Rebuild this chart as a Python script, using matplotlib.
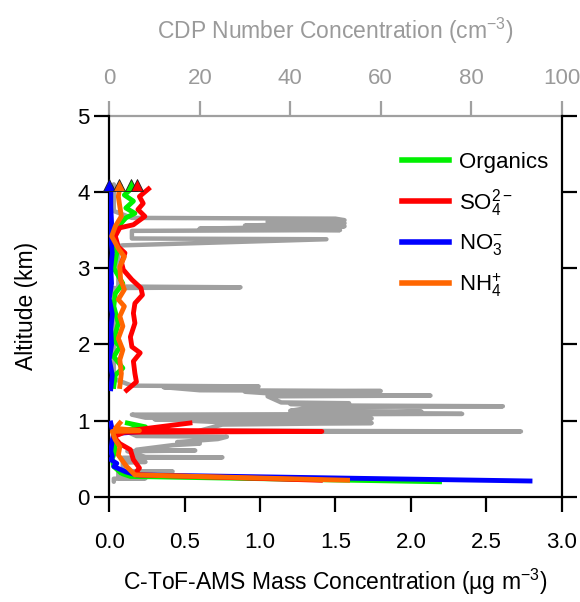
import numpy as np
import matplotlib
matplotlib.use("Agg")
import matplotlib.pyplot as plt
from matplotlib.ticker import FormatStrFormatter
from matplotlib.lines import Line2D

plt.rcParams['font.family'] = ['Liberation Sans', 'DejaVu Sans']
plt.rcParams['mathtext.fontset'] = 'custom'
plt.rcParams['mathtext.rm'] = 'Liberation Sans'
plt.rcParams['mathtext.it'] = 'Liberation Sans:italic'
plt.rcParams['mathtext.bf'] = 'Liberation Sans:bold'

nan = np.nan

# ---- CDP number concentration profile (cm^-3) vs altitude (km) ----
cdp_alt = [0.20, 0.24, 0.245, 0.25, 0.33, 0.335, 0.34, 0.45, 0.46, 0.47, 0.515, 0.52, 0.525,
           0.60, 0.61, 0.62, 0.68, 0.70, 0.72, 0.76, 0.79, 0.80, 0.855, 0.86, 0.87, 0.95,
           0.97, 0.98, 1.02, 1.03, 1.04, 1.08, 1.09, 1.10, 1.12, 1.13, 1.18, 1.19, 1.20,
           1.22, 1.23, 1.24, 1.32, 1.33, 1.34, 1.38, 1.39, 1.40, 1.44, 1.45, 1.46, 1.55,
           2.74, 2.75, 2.76, 3.29, 3.30, 3.38, 3.39, 3.49, 3.50, 3.52, 3.55, 3.56, 3.59,
           3.61, 3.63, 3.65, 3.66, 3.75, 4.10]
cdp_conc = [1, 1, 8, 2, 2, 14, 3, 3, 8, 3, 3, 25, 8,
            4, 19, 6, 14, 20, 15, 24, 26, 6, 4, 91, 20, 25,
            58, 25, 10, 58, 8, 5, 78, 55, 69, 40, 45, 87, 50,
            40, 53, 38, 35, 71, 40, 30, 60, 20, 12, 33, 5, 1,
            1, 29, 2, 2, 3, 48, 5, 5, 51, 20, 52, 30, 52,
            35, 52, 50, 5, 1, 1]

# ---- C-ToF-AMS species mass concentrations (ug m^-3) ----
org_alt = [0.20, 0.27, 0.31, 0.40, 0.50, 0.62, 0.75, 0.86, 0.92, 0.97, nan,
           1.45, 1.60, 1.69, 1.84, 1.97, 2.06, 2.28, 2.50, 2.67, 2.80, 3.00, 3.20,
           3.35, 3.48, 3.55, 3.66, 3.72, 3.79, 3.88, 3.96, 4.05]
org_mass = [2.19, 0.14, 0.08, 0.03, 0.02, 0.04, 0.03, 0.05, 0.24, 0.12, nan,
            0.03, 0.04, 0.09, 0.03, 0.07, 0.03, 0.06, 0.03, 0.04, 0.09, 0.03, 0.05,
            0.02, 0.03, 0.06, 0.11, 0.17, 0.11, 0.16, 0.10, 0.15]

so4_alt = [0.22, 0.29, 0.33, 0.38, 0.49, 0.62, 0.70, 0.79, 0.85, 0.86, 0.875, 0.97, nan,
           1.40, 1.51, 1.62, 1.78, 1.89, 1.97, 2.10, 2.28, 2.41, 2.54, 2.65, 2.74,
           2.85, 2.98, 3.07, 3.20, 3.28, 3.42, 3.53, 3.57, 3.68, 3.77, 3.85, 3.94, 4.04]
so4_mass = [1.40, 0.20, 0.18, 0.20, 0.16, 0.14, 0.07, 0.03, 0.10, 1.41, 0.15, 0.535, nan,
            0.115, 0.18, 0.17, 0.16, 0.205, 0.15, 0.14, 0.17, 0.16, 0.17, 0.22, 0.21,
            0.15, 0.093, 0.082, 0.104, 0.06, 0.04, 0.07, 0.16, 0.236, 0.19, 0.225, 0.20, 0.26]

no3_alt = [0.21, 0.29, 0.33, 0.40, 0.44, 0.49, 0.53, 0.60, 0.75, 0.83, 0.86, 0.88, 0.97, nan,
           1.42, 1.60, 1.80, 2.00, 2.20, 2.40, 2.60, 2.80, 3.00, 3.20, 3.40, 3.60, 3.80, 4.05]
no3_mass = [2.79, 0.18, 0.11, 0.03, 0.05, 0.01, 0.02, 0.01, 0.02, 0.03, 0.22, 0.02, 0.01, nan,
            0.01, 0.02, 0.00, 0.015, 0.01, 0.02, 0.00, 0.015, 0.01, 0.02, 0.01, 0.015, 0.01, 0.01]

nh4_alt = [0.22, 0.29, 0.40, 0.55, 0.66, 0.75, 0.86, 0.87, 0.90, 0.97, nan,
           1.45, 1.62, 1.80, 1.93, 2.08, 2.24, 2.37, 2.50, 2.59, 2.72, 2.85, 3.02,
           3.15, 3.26, 3.42, 3.55, 3.68, 3.81, 3.94, 4.07]
nh4_mass = [1.58, 0.17, 0.115, 0.06, 0.07, 0.04, 0.02, 0.20, 0.04, 0.07, nan,
            0.07, 0.08, 0.07, 0.09, 0.06, 0.09, 0.07, 0.10, 0.06, 0.10, 0.075, 0.07,
            0.10, 0.06, 0.016, 0.04, 0.08, 0.07, 0.06, 0.07]

# top-of-profile triangle markers (order: NO3, NH4, Organics, SO4)
top_marker_mass = [0.0, 0.064, 0.144, 0.184]
top_marker_alt = [4.09, 4.09, 4.09, 4.09]

x_ticks = [0.0, 0.5, 1.0, 1.5, 2.0, 2.5, 3.0]
y_ticks = [0, 1, 2, 3, 4, 5]
cdp_ticks = [0, 20, 40, 60, 80, 100]

C_ORG = '#00F000'
C_SO4 = '#FF0000'
C_NO3 = '#0000FF'
C_NH4 = '#FF6600'
GRAY = '#A0A0A0'
TXT_GRAY = '#9A9A9A'

fig = plt.figure(figsize=(5.8, 6.02), dpi=100)
ax = fig.add_axes([0.1884, 0.1744, 0.7800, 0.6334])
ax_cdp = ax.twiny()
ax.set_zorder(ax_cdp.get_zorder() + 1)
ax.patch.set_visible(False)

# CDP (gray) on the top axis
ax_cdp.plot(cdp_conc, cdp_alt, color=GRAY, lw=3.2, solid_capstyle='round',
            solid_joinstyle='round')
ax_cdp.set_xlim(0, 100)
ax_cdp.set_xticks(cdp_ticks)
for s in ['left', 'right', 'bottom']:
    ax_cdp.spines[s].set_visible(False)
ax_cdp.spines['top'].set_color(GRAY)
ax_cdp.spines['top'].set_linewidth(1.6)
ax_cdp.tick_params(axis='x', colors=TXT_GRAY, direction='out', length=11, width=1.6,
                   labelsize=16, pad=8, color=GRAY)
ax_cdp.set_xlabel('CDP Number Concentration (cm$^{\\mathregular{-3}}$)', fontsize=16.5,
                  color=TXT_GRAY, labelpad=21)

lw = 3.5
ax.plot(org_mass, org_alt, color=C_ORG, lw=lw, zorder=3)
ax.plot(no3_mass, no3_alt, color=C_NO3, lw=lw, zorder=4)
ax.plot(so4_mass, so4_alt, color=C_SO4, lw=lw, zorder=5)
ax.plot(nh4_mass, nh4_alt, color=C_NH4, lw=lw, zorder=6)

marker_colors = [C_NO3, C_NH4, C_ORG, C_SO4]
for mx, my, mc in zip(top_marker_mass, top_marker_alt, marker_colors):
    ax.plot([mx], [my], marker='^', ms=9, color=mc, mec='#202020', mew=0.6,
            linestyle='none', clip_on=False, zorder=7)

ax.set_xlim(0, 3.0)
ax.set_ylim(0, 5)
ax.set_xticks(x_ticks)
ax.set_yticks(y_ticks)
ax.xaxis.set_major_formatter(FormatStrFormatter('%.1f'))
ax.spines['top'].set_visible(False)
for s in ['left', 'right', 'bottom']:
    ax.spines[s].set_linewidth(1.6)
ax.tick_params(axis='both', direction='out', length=11, width=1.6, labelsize=16,
               right=True, labelright=False)
ax.tick_params(axis='x', pad=14)
ax.tick_params(axis='y', pad=3)
ax.set_xlabel('C-ToF-AMS Mass Concentration (µg m$^{\\mathregular{-3}}$)', fontsize=16.5,
              labelpad=10)
ax.set_ylabel('Altitude (km)', fontsize=16.5, labelpad=28)

handles = [Line2D([], [], color=C_ORG, lw=4),
           Line2D([], [], color=C_SO4, lw=4),
           Line2D([], [], color=C_NO3, lw=4),
           Line2D([], [], color=C_NH4, lw=4)]
labels = ['Organics', 'SO$_{\\mathregular{4}}^{\\mathregular{2-}}$',
          'NO$_{\\mathregular{3}}^{\\mathregular{-}}$', 'NH$_{\\mathregular{4}}^{\\mathregular{+}}$']
ax.legend(handles, labels, loc='upper left', bbox_to_anchor=(0.647, 0.905), frameon=False,
          fontsize=16, handlelength=2.1, handletextpad=0.45, labelspacing=0.62,
          borderpad=0, borderaxespad=0)

fig.savefig('out.png', dpi=100)
